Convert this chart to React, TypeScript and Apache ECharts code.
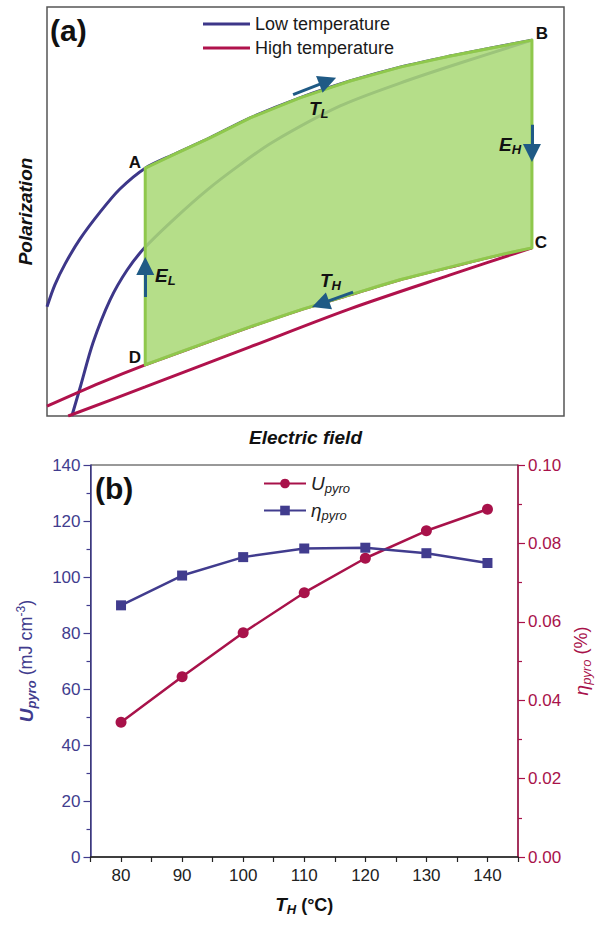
import React, { useEffect, useRef } from 'react';
import * as echarts from 'echarts';

// ---------- Panel (a): schematic P-E curves (arbitrary units, 0..100) ----------
const lowTempUpper: [number, number][] = [
  [0, 26.7], [1.5, 32.0], [3.5, 37.2], [6.4, 43.3], [10.3, 49.9], [14.1, 55.5], [19.0, 60.6],
  [24.8, 64.1], [31.5, 68.0], [39.3, 72.9], [48.9, 77.8], [58.6, 81.9], [68.3, 85.3],
  [78.0, 88.0], [85.7, 89.9], [93.8, 91.9],
];
const lowTempLower: [number, number][] = [
  [4.8, 0], [6.4, 6.9], [8.9, 17.9], [12.2, 28.4], [15.5, 35.7], [19.0, 41.3],
  [24.8, 48.4], [31.0, 55.3], [37.3, 61.4], [43.7, 67.0], [56.7, 75.8], [68.3, 81.4],
  [79.9, 86.3], [93.8, 91.9],
];
const highTempUpper: [number, number][] = [
  [0, 2.4], [10.3, 8.1], [19.0, 12.5], [29.6, 17.4], [39.3, 21.8], [48.9, 25.9],
  [58.6, 29.6], [68.3, 33.3], [78.0, 36.4], [87.6, 39.4], [93.8, 41.1],
];
const highTempLower: [number, number][] = [
  [4.1, 0], [19.0, 7.1], [39.3, 16.9], [58.6, 26.2], [78.0, 34.5], [93.8, 41.1],
];
const cycleFieldLow = 19.0; // E_L
const cycleFieldHigh = 93.8; // E_H
const arrowSegments: [number, number][][] = [
  [[47.6, 78.6], [54.3, 81.9]], // T_L
  [[93.8, 71.2], [93.8, 64.3]], // E_H
  [[19.0, 29.1], [19.0, 36.7]], // E_L
  [[59.2, 30.3], [52.9, 27.4]], // T_H
];

// ---------- Panel (b) ----------
const temperatures = [80, 90, 100, 110, 120, 130, 140];
const uPyro = [48.1, 64.4, 80.1, 94.4, 106.7, 116.5, 124.2];
const etaPyro = [0.0642, 0.0718, 0.0765, 0.0787, 0.0789, 0.0775, 0.075];

const FONT = "'Liberation Sans', Arial, sans-serif";
const PURPLE_A = '#3d3789';
const RED_A = '#b0124c';
const PURPLE = '#413c8e';
const RED = '#a8124a';
const ARROW = '#1f5a85';

export default function App() {
  const ref = useRef<HTMLDivElement>(null);
  useEffect(() => {
    if (!ref.current) return;
    const chart = echarts.init(ref.current, undefined, { renderer: 'svg' });

    const cyclePts: [number, number][] = [
      ...lowTempUpper.filter((p) => p[0] >= cycleFieldLow && p[0] <= cycleFieldHigh),
      ...highTempUpper.filter((p) => p[0] >= cycleFieldLow && p[0] <= cycleFieldHigh).reverse(),
    ];

    const sub = (size: number, pad: number, extra: any = {}) => ({
      fontSize: size, fontFamily: FONT, padding: [pad, 0, 0, 0], ...extra,
    });

    const curve = (name: string, data: [number, number][], color: string) => ({
      type: 'line', name, xAxisIndex: 0, yAxisIndex: 0, data, smooth: 0.3,
      symbol: 'none', lineStyle: { color, width: 3 }, itemStyle: { color }, z: 2,
    });

    const option: any = {
      animation: false,
      grid: [
        { left: 47, right: 41, top: 7, bottom: 509, show: true, borderColor: '#555', borderWidth: 1.5, backgroundColor: 'transparent' },
        { left: 90.5, right: 87, top: 465, bottom: 68, show: true, borderColor: '#333', borderWidth: 1 },
      ],
      xAxis: [
        {
          gridIndex: 0, type: 'value', min: 0, max: 100,
          axisLine: { show: false }, axisTick: { show: false }, axisLabel: { show: false }, splitLine: { show: false },
          name: 'Electric field', nameLocation: 'middle', nameGap: 12,
          nameTextStyle: { fontSize: 19, fontWeight: 'bold', fontStyle: 'italic', color: '#111', fontFamily: FONT },
        },
        {
          gridIndex: 1, type: 'value', min: 75, max: 145, interval: 5,
          axisLine: { show: true, onZero: false, lineStyle: { color: '#222', width: 1.5 } },
          axisTick: { show: true, length: 5, lineStyle: { color: '#222', width: 1.2 } },
          axisLabel: {
            color: '#222', fontSize: 17, fontFamily: FONT, margin: 10,
            formatter: (v: number) => (v % 10 === 0 && v >= 80 && v <= 140 ? String(v) : ''),
          },
          splitLine: { show: false },
          name: '{t|T}{s|H}{n| (°C)}', nameLocation: 'middle', nameGap: 36,
          nameTextStyle: {
            color: '#111',
            rich: {
              t: { fontSize: 19, fontWeight: 'bold', fontStyle: 'italic', fontFamily: FONT },
              s: sub(13, 10, { fontWeight: 'bold', fontStyle: 'italic' }),
              n: { fontSize: 18, fontWeight: 'bold', fontFamily: FONT },
            },
          },
        },
      ],
      yAxis: [
        {
          gridIndex: 0, type: 'value', min: 0, max: 100,
          axisLine: { show: false }, axisTick: { show: false }, axisLabel: { show: false }, splitLine: { show: false },
          name: 'Polarization', nameLocation: 'middle', nameGap: 12, nameRotate: 90,
          nameTextStyle: { fontSize: 19, fontWeight: 'bold', fontStyle: 'italic', color: '#111', fontFamily: FONT },
        },
        {
          gridIndex: 1, type: 'value', min: 0, max: 140, interval: 20, position: 'left',
          axisLine: { show: true, lineStyle: { color: PURPLE, width: 1.5 } },
          axisTick: { show: true, length: 7, lineStyle: { color: PURPLE, width: 1.2 } },
          minorTick: { show: true, splitNumber: 2, length: 4, lineStyle: { color: PURPLE, width: 1.2 } },
          axisLabel: { color: PURPLE, fontSize: 17, fontFamily: FONT, margin: 10 },
          splitLine: { show: false },
          name: '{u|U}{s|pyro}{n| (mJ cm}{p|-3}{n|)}', nameLocation: 'middle', nameGap: 53, nameRotate: 90,
          nameTextStyle: {
            color: PURPLE,
            rich: {
              u: { fontSize: 19, fontWeight: 'bold', fontStyle: 'italic', fontFamily: FONT, color: PURPLE },
              s: sub(13, 10, { fontWeight: 'bold', fontStyle: 'italic', color: PURPLE }),
              n: { fontSize: 18, fontFamily: FONT, color: PURPLE },
              p: { fontSize: 12, fontFamily: FONT, color: PURPLE, padding: [0, 0, 10, 0] },
            },
          },
        },
        {
          gridIndex: 1, type: 'value', min: 0, max: 0.1, interval: 0.02, position: 'right',
          axisLine: { show: true, lineStyle: { color: RED, width: 1.5 } },
          axisTick: { show: true, length: 7, lineStyle: { color: RED, width: 1.2 } },
          minorTick: { show: true, splitNumber: 2, length: 4, lineStyle: { color: RED, width: 1.2 } },
          axisLabel: { color: RED, fontSize: 17, fontFamily: FONT, margin: 10, formatter: (v: number) => v.toFixed(2) },
          splitLine: { show: false },
          name: '{e|η}{s|pyro}{n| (%)}', nameLocation: 'middle', nameGap: 43, nameRotate: 90,
          nameTextStyle: {
            color: RED,
            rich: {
              e: { fontSize: 19, fontStyle: 'italic', fontFamily: FONT, color: RED },
              s: sub(13, 10, { fontStyle: 'italic', color: RED }),
              n: { fontSize: 18, fontFamily: FONT, color: RED },
            },
          },
        },
      ],
      legend: [
        {
          data: [
            { name: 'Low temperature', icon: 'rect' },
            { name: 'High temperature', icon: 'rect' },
          ],
          orient: 'vertical', left: 198, top: 10, itemWidth: 47, itemHeight: 3, itemGap: 6,
          selectedMode: false,
          textStyle: { fontSize: 18, color: '#1a1a1a', fontFamily: FONT },
        },
        {
          data: ['U_pyro', 'η_pyro'],
          orient: 'vertical', left: 258, top: 469, itemWidth: 42, itemHeight: 12, itemGap: 6,
          selectedMode: false,
          formatter: (name: string) => (name === 'U_pyro' ? '{m|U}{s|pyro}' : '{m|η}{s|pyro}'),
          textStyle: {
            color: '#222',
            rich: {
              m: { fontSize: 19, fontStyle: 'italic', fontFamily: FONT, color: '#222' },
              s: sub(13, 10, { fontStyle: 'italic', color: '#222' }),
            },
          },
        },
      ],
      series: [
        // panel (a) curves
        curve('Low temperature', lowTempUpper, PURPLE_A),
        curve('Low temperature', lowTempLower, PURPLE_A),
        curve('High temperature', highTempUpper, RED_A),
        curve('High temperature', highTempLower, RED_A),
        {
          type: 'custom', xAxisIndex: 0, yAxisIndex: 0, data: [[50, 50]], z: 3, silent: true,
          renderItem: (_p: any, api: any) => ({
            type: 'polygon',
            shape: { points: cyclePts.map((p) => api.coord(p)), smooth: 0 },
            style: { fill: 'rgba(170,217,120,0.87)', stroke: '#8fc84c', lineWidth: 3, lineJoin: 'round' },
          }),
        },
        {
          type: 'lines', coordinateSystem: 'cartesian2d', xAxisIndex: 0, yAxisIndex: 0, z: 5,
          symbol: ['none', 'triangle'], symbolSize: 18,
          lineStyle: { color: ARROW, width: 3, opacity: 1, curveness: 0 },
          data: arrowSegments.map((c) => ({ coords: c })),
        },
        // panel (b)
        {
          type: 'line', name: 'U_pyro', xAxisIndex: 1, yAxisIndex: 1,
          data: temperatures.map((t, i) => [t, uPyro[i]]),
          symbol: 'circle', symbolSize: 11, lineStyle: { color: RED, width: 2.5 }, itemStyle: { color: RED }, z: 4,
        },
        {
          type: 'line', name: 'η_pyro', xAxisIndex: 1, yAxisIndex: 2,
          data: temperatures.map((t, i) => [t, etaPyro[i]]),
          symbol: 'rect', symbolSize: 10, lineStyle: { color: PURPLE, width: 2.5 }, itemStyle: { color: PURPLE }, z: 4,
        },
      ],
      graphic: [
        { type: 'text', x: 50, y: 30, style: { text: '(a)', font: `bold 30px ${FONT}`, fill: '#111', verticalAlign: 'middle' } },
        { type: 'text', x: 95, y: 488, style: { text: '(b)', font: `bold 30px ${FONT}`, fill: '#111', verticalAlign: 'middle' } },
        { type: 'text', x: 135, y: 162, z: 10, style: { text: 'A', font: `bold 17px ${FONT}`, fill: '#111', align: 'center', verticalAlign: 'middle' } },
        { type: 'text', x: 542, y: 33, z: 10, style: { text: 'B', font: `bold 17px ${FONT}`, fill: '#111', align: 'center', verticalAlign: 'middle' } },
        { type: 'text', x: 541, y: 242, z: 10, style: { text: 'C', font: `bold 17px ${FONT}`, fill: '#111', align: 'center', verticalAlign: 'middle' } },
        { type: 'text', x: 135, y: 357, z: 10, style: { text: 'D', font: `bold 17px ${FONT}`, fill: '#111', align: 'center', verticalAlign: 'middle' } },
        ...[
          { x: 309, y: 108, m: 'T', s: 'L' },
          { x: 499, y: 144, m: 'E', s: 'H' },
          { x: 155, y: 275, m: 'E', s: 'L' },
          { x: 320, y: 280, m: 'T', s: 'H' },
        ].map((l) => ({
          type: 'text', x: l.x, y: l.y, z: 10,
          style: {
            text: `{m|${l.m}}{s|${l.s}}`, fill: '#111', verticalAlign: 'middle', align: 'left',
            rich: {
              m: { fontSize: 19, fontWeight: 'bold', fontStyle: 'italic', fontFamily: FONT, fill: '#111' },
              s: { fontSize: 13, fontWeight: 'bold', fontStyle: 'italic', fontFamily: FONT, padding: [10, 0, 0, 0], fill: '#111' },
            },
          },
        })),
      ],
    };
    chart.setOption(option);
    return () => chart.dispose();
  }, []);
  return <div ref={ref} style={{ position: 'fixed', left: 0, top: 0, width: 605, height: 925, background: '#fff' }} />;
}
